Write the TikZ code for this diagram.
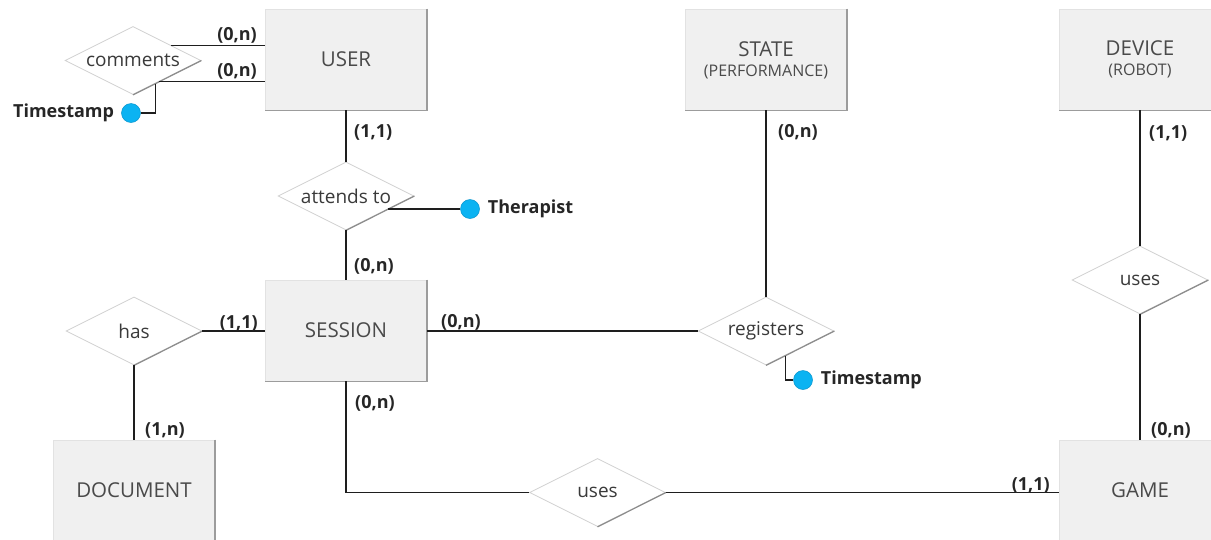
\documentclass[tikz,border=0pt]{standalone}
\usepackage{fontspec}
\setmainfont{Open Sans}
\usetikzlibrary{shapes.geometric,calc}
\definecolor{entfill}{HTML}{F0F0F0}
\definecolor{entedge}{HTML}{9C9C9C}
\definecolor{entlite}{HTML}{E2E2E2}
\definecolor{rellite}{HTML}{D0D0D0}
\definecolor{reldark}{HTML}{8C8C8C}
\definecolor{attrblue}{HTML}{0BB3F2}
\definecolor{attrrim}{HTML}{0794CC}
\definecolor{linecol}{HTML}{1E1E1E}
\definecolor{enttext}{HTML}{4A4A4A}
\definecolor{reltext}{HTML}{3A3A3A}
\definecolor{cardtext}{HTML}{262626}
\tikzset{
 entity/.style={rectangle, minimum width=161pt, minimum height=101pt, inner sep=0pt, fill=entfill, draw=entlite, line width=0.6pt, font=\fontsize{20.5}{23}\selectfont, text=enttext},
 enttxt/.style={font=\fontsize{20.5}{23}\selectfont, text=enttext, inner sep=0pt},
 subtxt/.style={font=\fontsize{16}{18}\selectfont, text=enttext, inner sep=0pt},
 rel/.style={diamond, minimum width=136pt, minimum height=68pt, inner sep=0pt, fill=white, draw=rellite, line width=0.8pt},
 reltxt/.style={font=\fontsize{19}{22}\selectfont, text=reltext, inner sep=0pt},
 card/.style={font=\bfseries\fontsize{18}{20}\selectfont, text=cardtext, inner sep=0pt},
 attr/.style={circle, minimum size=19pt, inner sep=0pt, fill=attrblue, draw=attrrim, line width=0.5pt},
 attrtxt/.style={font=\bfseries\fontsize{18}{20}\selectfont, text=cardtext, inner sep=0pt},
 conn/.style={draw=linecol, line width=1.3pt},
 boxedge/.style={draw=entedge, line width=1.6pt},
 reledge/.style={draw=reldark, line width=1.2pt},
}
\begin{document}
\begin{tikzpicture}[x=1pt,y=-1pt]
\useasboundingbox (0,0) rectangle (1211,539);
% entities
\node[entity] (usr) at (346,59.5) {USER};
\node[entity] (se) at (346,330.5) {SESSION};
\node[entity] (doc) at (134,490.5) {DOCUMENT};
\node[entity] (st) at (766,59.5) {};
\node[enttxt] (stT) at (766,49) {STATE};
\node[subtxt] (stS) at (766,72) {(PERFORMANCE)};
\node[entity] (dv) at (1140,59.5) {};
\node[enttxt] (dvT) at (1140,48) {DEVICE};
\node[subtxt] (dvS) at (1140,71) {(ROBOT)};
\node[entity] (gm) at (1140,490.5) {GAME};
\foreach \e in {usr,se,doc,st,dv,gm}{
  \draw[boxedge] (\e.north east) -- (\e.south east) -- (\e.south west);
}
% relationships
\node[rel] (cm) at (133,60.5) {};
\node[rel] (at) at (346,196) {};
\node[rel] (has) at (134,331) {};
\node[rel] (reg) at (766,331) {};
\node[rel] (us1) at (597.5,492.5) {};
\node[rel] (us2) at (1140,280) {};
\foreach \r in {cm,at,has,reg,us1,us2}{
  \draw[reledge] (\r.east) -- (\r.south);
}
\node[reltxt] at (cm) {comments};
\node[reltxt] at (at) {attends to};
\node[reltxt] at (has) {has};
\node[reltxt] at (reg) {registers};
\node[reltxt] at (us1) {uses};
\node[reltxt] at (us2) {uses};
% attributes
\node[attr] (ts1) at (131,113) {};
\node[attrtxt, anchor=east] (ts1T) at ([xshift=-7pt]ts1.west) {Timestamp};
\node[attr] (th) at (470,209) {};
\node[attrtxt, anchor=west] (thT) at ([xshift=8pt]th.east) {Therapist};
\node[attr] (ts2) at (803,380) {};
\node[attrtxt, anchor=west] (ts2T) at ([xshift=8pt]ts2.east) {Timestamp};
% connectors
\coordinate (cmA) at ($(cm.north)!0.56!(cm.east)$);
\coordinate (cmB) at ($(cm.east)!0.62!(cm.south)$);
\coordinate (cmC) at ($(cm.east)!0.67!(cm.south)$);
\draw[conn] (cmA) -- (cmA -| usr.west);
\draw[conn] (cmB) -- (cmB -| usr.west);
\draw[conn] (cmC) |- (ts1.east);
\draw[conn] (usr.south) -- (at.north);
\draw[conn] (at.south) -- (se.north);
\coordinate (atA) at ($(at.east)!0.38!(at.south)$);
\draw[conn] (atA) -- (atA -| th.west);
\draw[conn] (has.east) -- (has.east -| se.west);
\draw[conn] (has.south) -- (doc.north);
\draw[conn] (reg.west -| se.east) -- (reg.west);
\draw[conn] (st.south) -- (reg.north);
\coordinate (regA) at ($(reg.east)!0.72!(reg.south)$);
\draw[conn] (regA) |- (ts2.west);
\draw[conn] (se.south) |- (us1.west);
\draw[conn] (us1.east) -- (us1.east -| gm.west);
\draw[conn] (dv.south) -- (us2.north);
\draw[conn] (us2.south) -- (gm.north);
% cardinalities
\node[card, anchor=east] (c1) at (257,35) {(0,n)};
\node[card, anchor=east] (c2) at (257,71) {(0,n)};
\node[card, anchor=west] (c3) at (354,132) {(1,1)};
\node[card, anchor=west] (c4) at (354,266) {(0,n)};
\node[card, anchor=east] (c5) at (258,323) {(1,1)};
\node[card, anchor=west] (c6) at (441,322) {(0,n)};
\node[card, anchor=west] (c7) at (355,403) {(0,n)};
\node[card, anchor=west] (c8) at (145,430) {(1,n)};
\node[card, anchor=west] (c9) at (778,132) {(0,n)};
\node[card, anchor=west] (c10) at (1149,133) {(1,1)};
\node[card, anchor=west] (c11) at (1151,430) {(0,n)};
\node[card, anchor=east] (c12) at (1050,485) {(1,1)};
\end{tikzpicture}
\end{document}
